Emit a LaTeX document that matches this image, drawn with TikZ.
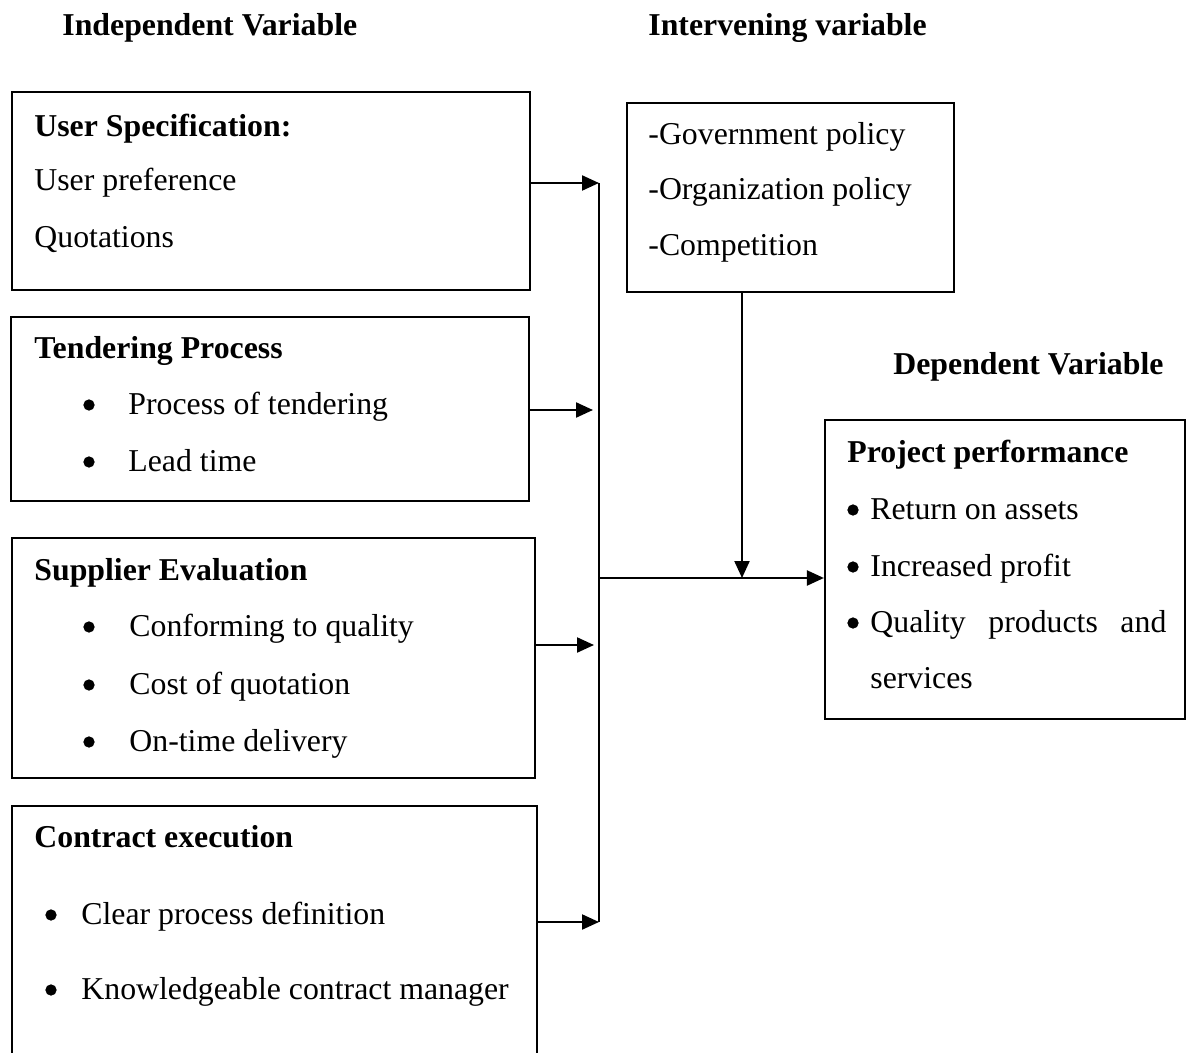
\documentclass[tikz,border=0pt]{standalone}
\usepackage{fontspec}
\setmainfont{Liberation Serif}
\usetikzlibrary{fit,arrows.meta}
\begin{document}
\begin{tikzpicture}[x=0.5pt,y=-0.5pt,
  box/.style={draw,line width=1.1pt,inner sep=0pt},
  txt/.style={anchor=base west,inner sep=0pt,font=\fontsize{15.9}{19}\selectfont},
  hd/.style={anchor=base west,inner sep=0pt,font=\fontsize{15.9}{19}\selectfont\bfseries},
  bul/.style={circle,fill=black,draw=black,line width=0.4pt,inner sep=0pt,minimum size=5.2pt},
  conn/.style={line width=1.1pt},
  arr/.style={conn,-{Triangle[length=8.5pt,width=7.5pt]}}]
\clip (0,0) rectangle (1187,1053);
\fill[white] (0,0) rectangle (1187,1053);
% titles
\node[hd] (tind) at (62,36) {Independent Variable};
\node[hd] (tint) at (648,36) {Intervening variable};
\node[hd] (tdep) at (893,374) {Dependent Variable};
% boxes
\node[box, fit={(12,92) (530,290)}] (b1) {};
\node[box, fit={(11,317) (529,501)}] (b2) {};
\node[box, fit={(12,538) (535,778)}] (b3) {};
\node[box, fit={(12,806) (537,1080)}] (b4) {};
\node[box, fit={(627,103) (954,292)}] (iv) {};
\node[box, fit={(825,420) (1185,719)}] (dv) {};
% box 1
\node[hd] (b1h) at (34,137) {User Specification:};
\node[txt] (b1a) at (34,191) {User preference};
\node[txt] (b1b) at (34,248) {Quotations};
% box 2
\node[hd] (b2h) at (34,358) {Tendering Process};
\node[bul] (b2ua) at (89,405) {};
\node[txt] (b2a) at (128,414) {Process of tendering};
\node[bul] (b2ub) at (89,462) {};
\node[txt] (b2b) at (128,471) {Lead time};
% box 3
\node[hd] (b3h) at (34,580) {Supplier Evaluation};
\node[bul] (b3ua) at (89,627) {};
\node[txt] (b3a) at (129,636) {Conforming to quality};
\node[bul] (b3ub) at (89,685) {};
\node[txt] (b3b) at (129,694) {Cost of quotation};
\node[bul] (b3uc) at (89,742) {};
\node[txt] (b3c) at (129,751) {On-time delivery};
% box 4
\node[hd] (b4h) at (34,847) {Contract execution};
\node[bul] (b4ua) at (51,915) {};
\node[txt] (b4a) at (81,924) {Clear process definition};
\node[bul] (b4ub) at (51,990) {};
\node[txt] (b4b) at (81,999) {Knowledgeable contract manager};
% intervening
\node[txt] (iva) at (648,145) {-Government policy};
\node[txt] (ivb) at (648,200) {-Organization policy};
\node[txt] (ivc) at (648,256) {-Competition};
% dependent
\node[hd] (dvh) at (847,462) {Project performance};
\node[bul] (dvua) at (853,510) {};
\node[txt] (dva) at (870,519) {Return on assets};
\node[bul] (dvub) at (853,567) {};
\node[txt] (dvb) at (870,576) {Increased profit};
\node[bul] (dvuc) at (853,623) {};
\node[txt] (dvc) at (870,632) {\hbox to 148pt{Quality\hfill products\hfill and}};
\node[txt] (dvd) at (870,688) {services};
% connectors
\coordinate (bt) at (599,183);
\coordinate (bb) at (599,922);
\coordinate (bm) at (599,578);
\coordinate (a2) at (593,410);
\coordinate (a3) at (594,645);
\coordinate (drop) at (742,578);
\draw[conn] (bt) -- (bb);
\draw[arr] (b1.east |- bt) -- (bt);
\draw[arr] (b2.east |- a2) -- (a2);
\draw[arr] (b3.east |- a3) -- (a3);
\draw[arr] (b4.east |- bb) -- (bb);
\draw[arr] (bm) -- (dv.west |- bm);
\draw[arr] (drop |- iv.south) -- (drop);
\end{tikzpicture}
\end{document}
